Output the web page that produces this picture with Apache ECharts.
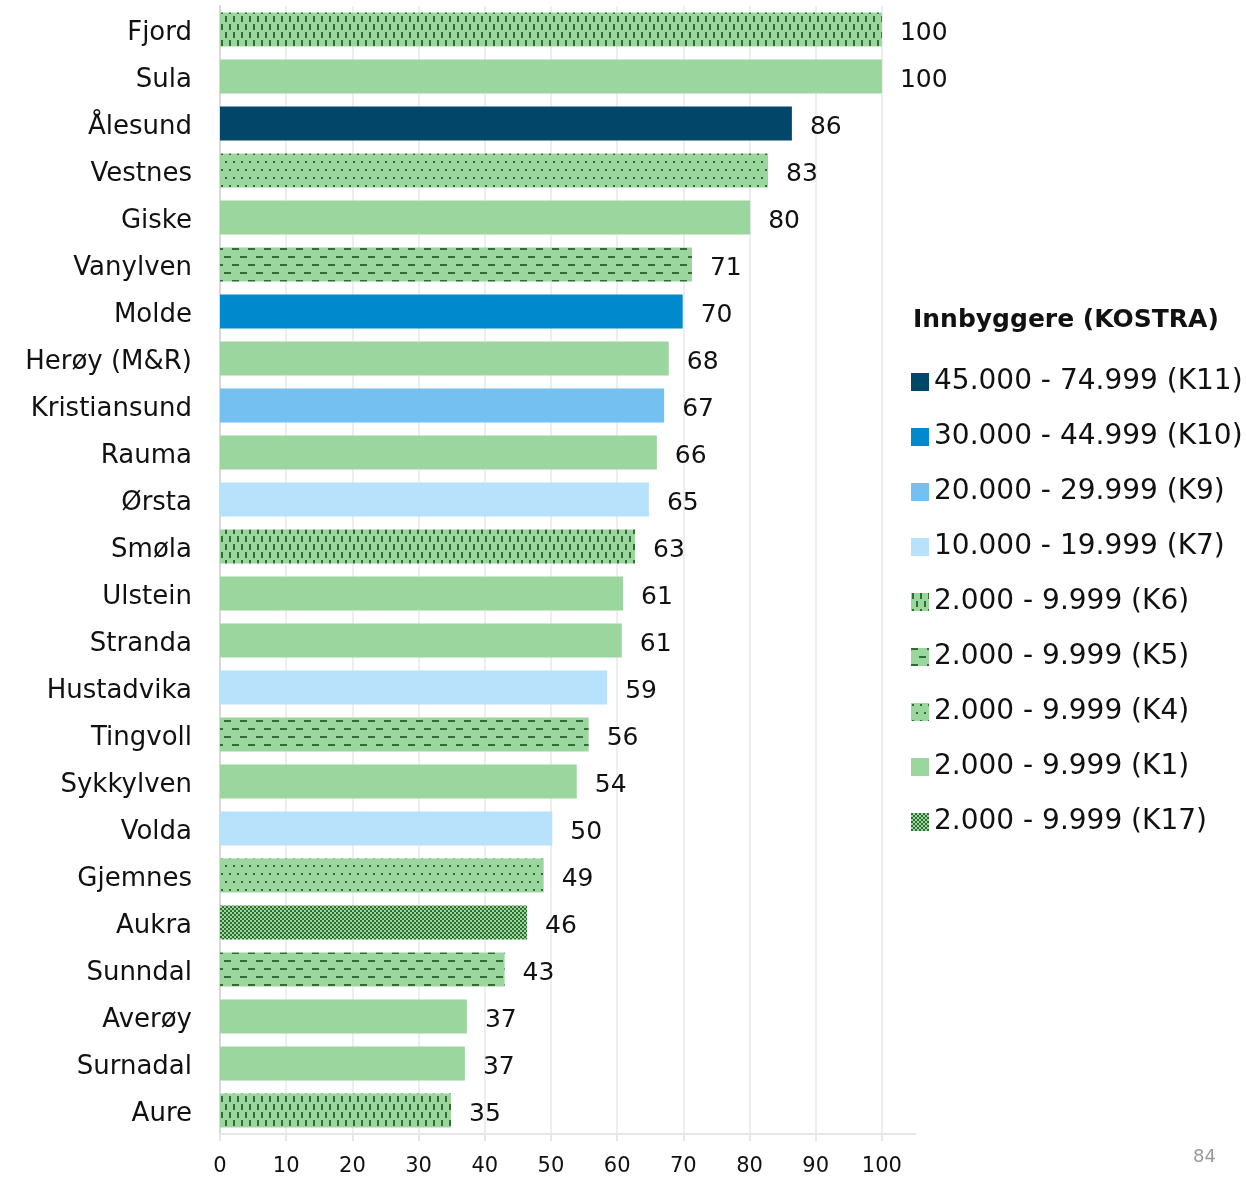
<!DOCTYPE html>
<html><head><meta charset="utf-8">
<script src="https://cdn.jsdelivr.net/npm/echarts@6/dist/echarts.min.js"></script>
<style>html,body{margin:0;padding:0;background:#fff}#c{width:1246px;height:1177px}</style>
</head><body><div id="c"></div>
<script>
const categories = ['Fjord','Sula','Ålesund','Vestnes','Giske','Vanylven','Molde','Herøy (M&R)','Kristiansund','Rauma','Ørsta','Smøla','Ulstein','Stranda','Hustadvika','Tingvoll','Sykkylven','Volda','Gjemnes','Aukra','Sunndal','Averøy','Surnadal','Aure'];
const values = [100,100,86.4,82.8,80.1,71.3,69.9,67.8,67.1,66.0,64.8,62.7,60.9,60.7,58.5,55.7,53.9,50.2,48.9,46.4,43.0,37.3,37.0,34.9];
const classes = ['K6','K1','K11','K4','K1','K5','K10','K1','K9','K1','K7','K6','K1','K1','K7','K5','K1','K7','K4','K17','K5','K1','K1','K6'];
const classKeys = ['K11','K10','K9','K7','K6','K5','K4','K1','K17'];
const classNames = ['45.000 - 74.999 (K11)','30.000 - 44.999 (K10)','20.000 - 29.999 (K9)','10.000 - 19.999 (K7)','2.000 - 9.999 (K6)','2.000 - 9.999 (K5)','2.000 - 9.999 (K4)','2.000 - 9.999 (K1)','2.000 - 9.999 (K17)'];
const xTicks = [0,10,20,30,40,50,60,70,80,90,100];

const GREEN = '#9bd69e', DARK = '#2f6e30';
function pat(w, h, draw) {
  const c = document.createElement('canvas'); c.width = w; c.height = h;
  const g = c.getContext('2d'); g.fillStyle = GREEN; g.fillRect(0,0,w,h); g.fillStyle = DARK; draw(g);
  return {image: c, repeat: 'repeat'};
}
const fills = {
  K11: '#02476a', K10: '#0089cc', K9: '#74c0f0', K7: '#b8e2fc', K1: GREEN,
  K6: pat(8,16,g=>{g.fillRect(1,0,2,6);g.fillRect(5,8,2,6);}),
  K5: pat(16,16,g=>{g.fillRect(0,0,7,2);g.fillRect(8,8,7,2);}),
  K4: pat(8,16,g=>{g.fillRect(1,1,2,2);g.fillRect(5,9,2,2);}),
  K17: pat(4,4,g=>{g.fillRect(0,0,2,2);g.fillRect(2,2,2,2);})
};
const FONT = 'DejaVu Sans';
const series = classKeys.map((k,i)=>({
  name: classNames[i], type: 'bar', stack: 'all', barWidth: 34,
  itemStyle: {color: fills[k]},
  label: {show: true, position: 'right', distance: 18,
    formatter: p => '{a|' + Math.round(p.value) + '}',
    rich: {a: {fontFamily: FONT, fontSize: 25, color: '#111', padding: [8,0,0,0]}}},
  data: values.map((v,j)=> classes[j]===k ? v : '-')
}));
const chart = echarts.init(document.getElementById('c'), null, {renderer:'canvas'});
chart.setOption({
  animation: false,
  grid: {left: 220, right: 331, top: 6, bottom: 42, containLabel: false},
  title: {text: 'Innbyggere (KOSTRA)', left: 908, top: 303,
    textStyle: {fontFamily: FONT, fontWeight: 'bold', fontSize: 25, color: '#111'}},
  legend: {orient: 'vertical', left: 906, top: 362, itemWidth: 18, itemHeight: 18, itemGap: 25,
    icon: 'rect', textStyle: {fontFamily: FONT, fontSize: 28, color: '#111', lineHeight: 30},
    data: classNames},
  xAxis: {type: 'value', min: 0, max: 105, interval: 10,
    axisLine: {show: true, lineStyle: {color: '#e6e6e6', width: 2}},
    axisTick: {show: true, length: 7, customValues: xTicks, lineStyle: {color: '#e6e6e6', width: 2}},
    splitLine: {show: true, lineStyle: {color: '#eeeeee', width: 2}},
    axisLabel: {fontFamily: FONT, fontSize: 21, color: '#111', margin: 22, customValues: xTicks}},
  yAxis: {type: 'category', data: categories, inverse: true,
    axisLine: {show: true, lineStyle: {color: '#d9d9d9', width: 2}},
    axisTick: {show: false},
    axisLabel: {margin: 28, formatter: v => '{a|' + v + '}',
      rich: {a: {fontFamily: FONT, fontSize: 26, color: '#111', padding: [8,0,0,0]}}}},
  graphic: [{type: 'text', left: 1193, top: 1148, style: {text: '84', fontFamily: FONT, fontSize: 18, fill: '#999'}}],
  series: series
});
</script></body></html>
